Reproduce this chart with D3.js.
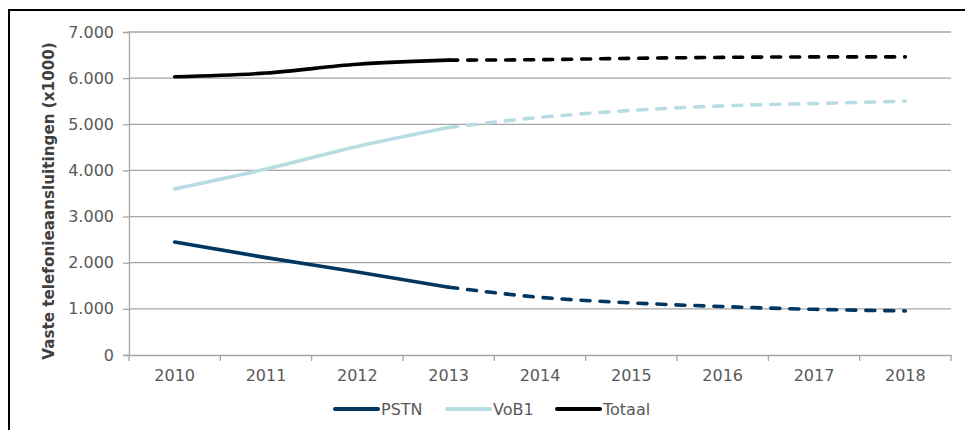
<!DOCTYPE html>
<html><head><meta charset="utf-8">
<script src="https://cdn.jsdelivr.net/npm/d3@7"></script>
<style>body{margin:0;background:#fff}svg{display:block}</style>
</head><body><svg id="c" width="965" height="430"></svg>
<script>
const years = ["2010","2011","2012","2013","2014","2015","2016","2017","2018"];
const pstn  = [2450, 2110, 1800, 1470, 1250, 1130, 1050, 990, 955];
const vob1  = [3600, 4030, 4520, 4930, 5150, 5300, 5400, 5450, 5500];
const totaal= [6030, 6110, 6300, 6390, 6400, 6430, 6450, 6460, 6460];
const yTicks = [0,1000,2000,3000,4000,5000,6000,7000];
const seriesNames = ["PSTN","VoB1","Totaal"];
const seriesColors = ["#003660","#b7dde2","#000000"];
const lastActual = 3; // 2013: solid up to here, dashed after

const svg = d3.select("#c");
const font = "'DejaVu Sans', Verdana, sans-serif";
const L=129, R=951, T=32, B=355;
const x = d3.scaleBand().domain(years).range([L,R]);
const y = d3.scaleLinear().domain([0,7000]).range([B,T]);
const fmt = d => d3.format(",")(d).replace(/,/g,".");

svg.append("rect").attr("x",9).attr("y",10).attr("width",980).attr("height",440)
  .attr("fill","#fff").attr("stroke","#000").attr("stroke-width",2);

// grid
svg.append("g").selectAll("line").data(yTicks.filter(d=>d>0)).join("line")
  .attr("x1",L).attr("x2",R).attr("y1",d=>y(d)).attr("y2",d=>y(d))
  .attr("stroke","#a6a6a6").attr("stroke-width",1.3);

const ya = svg.append("g").attr("transform",`translate(${L},0)`)
  .call(d3.axisLeft(y).tickValues(yTicks).tickFormat(fmt).tickSize(6).tickPadding(9));
ya.select(".domain").attr("stroke","#a6a6a6").attr("stroke-width",1.3);
ya.selectAll(".tick line").attr("stroke","#a6a6a6").attr("stroke-width",1.3);
ya.selectAll("text").attr("fill","#595959").style("font-family",font).style("font-size","16px");

const xa = svg.append("g").attr("transform",`translate(0,${B})`)
  .call(d3.axisBottom(x).tickSize(0).tickPadding(15));
xa.select(".domain").attr("stroke","#a6a6a6").attr("stroke-width",1.3);
xa.selectAll("text").attr("fill","#595959").style("font-family",font).style("font-size","16px");
// ticks at category boundaries
const bounds = years.map(d=>x(d)).concat([R]);
svg.append("g").selectAll("line").data(bounds).join("line")
  .attr("x1",d=>d).attr("x2",d=>d).attr("y1",B).attr("y2",B+6)
  .attr("stroke","#a6a6a6").attr("stroke-width",1.3);

svg.append("text").attr("transform","translate(54,201) rotate(-90)")
  .attr("text-anchor","middle").attr("fill","#404040")
  .style("font-family",font).style("font-size","15.2px").style("font-weight","bold")
  .text("Vaste telefonieaansluitingen (x1000)");

const line = d3.line().x(d=>x(d.year)+x.bandwidth()/2).y(d=>y(d.v)).curve(d3.curveMonotoneX);
[pstn, vob1, totaal].forEach((vals,i)=>{
  const data = years.map((yr,j)=>({year:yr, v:vals[j]}));
  svg.append("path").datum(data.slice(0,lastActual+1)).attr("d",line)
    .attr("fill","none").attr("stroke",seriesColors[i]).attr("stroke-width",3.6).attr("stroke-linecap","round");
  svg.append("path").datum(data.slice(lastActual)).attr("d",line)
    .attr("fill","none").attr("stroke",seriesColors[i]).attr("stroke-width",3.6)
    .attr("stroke-linecap","round").attr("stroke-dasharray","9,10");
});

// legend
const legX = [335, 447, 557];
const lg = svg.append("g");
seriesNames.forEach((n,i)=>{
  lg.append("line").attr("x1",legX[i]).attr("x2",legX[i]+43).attr("y1",409).attr("y2",409)
    .attr("stroke",seriesColors[i]).attr("stroke-width",4).attr("stroke-linecap","round");
  lg.append("text").attr("x",legX[i]+46).attr("y",415).attr("fill","#595959")
    .style("font-family",font).style("font-size","16px").text(n);
});
</script></body></html>
